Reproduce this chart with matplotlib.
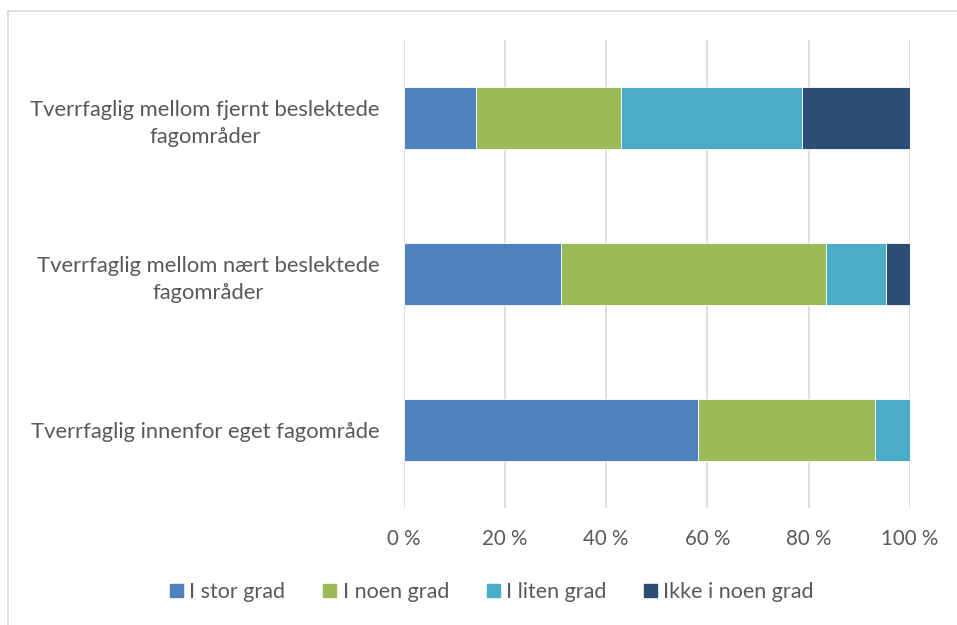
import matplotlib
matplotlib.use("Agg")
import matplotlib.pyplot as plt
from matplotlib.lines import Line2D
from matplotlib.ticker import FuncFormatter
import numpy as np

categories = [
    "Tverrfaglig innenfor eget fagområde",
    "Tverrfaglig mellom nært beslektede\nfagområder",
    "Tverrfaglig mellom fjernt beslektede\nfagområder",
]
series_names = ["I stor grad", "I noen grad", "I liten grad", "Ikke i noen grad"]
stor = [58.1, 31.0, 14.3]
noen = [34.9, 52.4, 28.6]
liten = [7.0, 11.9, 35.7]
ikke = [0.0, 4.8, 21.4]
colors = ["#4F81BD", "#9BBB59", "#4BACC6", "#2C4D75"]
xticks = [0, 20, 40, 60, 80, 100]

plt.rcParams['font.family'] = ['Lato', 'DejaVu Sans']
text_color = "#595959"

fig = plt.figure(figsize=(9.57, 6.25), dpi=100)
ax = fig.add_axes([403.5/957, 1-508/625, (910-403.5)/957, 468/625])

y = np.arange(len(categories))
left = np.zeros(len(categories))
for vals, c, name in zip([stor, noen, liten, ikke], colors, series_names):
    ax.barh(y, vals, left=left, height=0.4, color=c, edgecolor="white",
            linewidth=0.6, label=name, zorder=3)
    left = left + np.array(vals)

ax.set_xlim(0, 100)
ax.set_ylim(-0.5, len(categories) - 0.5)
ax.set_xticks(xticks)
ax.xaxis.set_major_formatter(FuncFormatter(lambda v, p: f"{int(v)} %"))
ax.set_yticks(y)
ax.set_yticklabels(categories, multialignment="center", linespacing=1.45)
ax.tick_params(axis="y", length=0, labelsize=15.8, colors=text_color, pad=17)
ax.tick_params(axis="x", length=0, labelsize=14.8, colors=text_color, pad=15)
ax.grid(axis="x", color="#D9D9D9", linewidth=1.2, zorder=0)
for s in ax.spines.values():
    s.set_visible(False)

leg = fig.legend(handles=[plt.Rectangle((0, 0), 1, 1, color=c) for c in colors],
                 labels=series_names, loc="center", bbox_to_anchor=(492/957, 1-592/625),
                 ncol=4, frameon=False, fontsize=15.5, handlelength=0.6,
                 handleheight=0.6, handletextpad=0.3, columnspacing=1.75,
                 labelcolor=text_color)

# chart border (left and top visible)
fig.add_artist(Line2D([8/957, 8/957], [0, 1-11/625], color="#D9D9D9", linewidth=1.2,
                      transform=fig.transFigure))
fig.add_artist(Line2D([8/957, 1], [1-11/625, 1-11/625], color="#D9D9D9", linewidth=1.2,
                      transform=fig.transFigure))

fig.savefig("out.png", dpi=100)
